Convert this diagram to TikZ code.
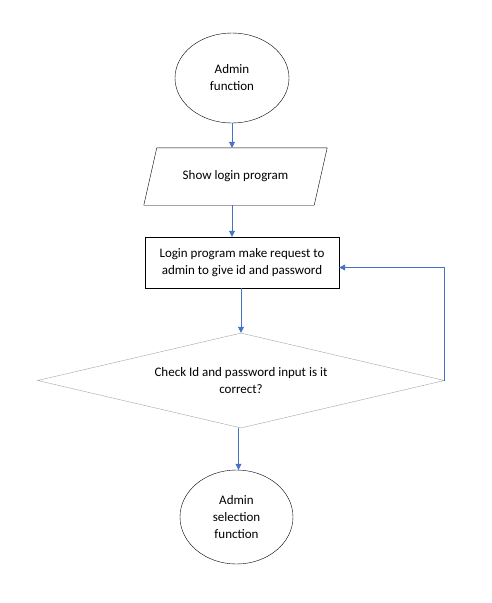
\documentclass[tikz,border=0pt]{standalone}
\usepackage{fontspec}
\setmainfont{Carlito}
\usepackage{xcolor}
\usetikzlibrary{positioning}
\usetikzlibrary{shapes.geometric}
\usetikzlibrary{arrows.meta}
\definecolor{linkblue}{HTML}{4472C4}
\definecolor{rimgray}{HTML}{A5A5A5}
\tikzset{
  arr/.style={draw=linkblue, line width=0.6pt, -{Triangle[length=6pt,width=6pt]}},
  txt/.style={font=\fontsize{13}{17}\selectfont, align=center, inner sep=0pt}
}

\begin{document}
\begin{tikzpicture}[x=1pt,y=-1pt]
\useasboundingbox (0,0) rectangle (491,603);

\node[txt, draw, ellipse, minimum width=114pt, minimum height=90pt] (admin) at (232,78) {Admin\\function};
\node[txt, rectangle, minimum width=170pt, minimum height=57pt] (show) at (235.5,176.5) {Show login program};
\draw ([xshift=-6.5pt]show.south west) -- ([xshift=6.5pt]show.north west)
  -- ([xshift=6.5pt]show.north east) -- ([xshift=-6.5pt]show.south east) -- cycle;
\node[txt, draw, rectangle, minimum width=194pt, minimum height=51pt] (login) at (242,262.5) {Login program make request to\\admin to give id and password};
\node[txt, draw=rimgray, diamond, aspect=4.28, minimum width=407pt, minimum height=95pt] (check) at (241,380.5) {Check Id and password input is it\\correct?};
\node[txt, draw, ellipse, minimum width=113pt, minimum height=94pt] (sel) at (236.5,517) {Admin\\selection\\function};

\draw[arr] (admin.south) -- (show.north -| admin.south);
\draw[arr] (show.south -| admin.south) -- (login.north -| admin.south);
\draw[arr] (check.north |- login.south) -- (check.north);
\draw[arr] ([xshift=-2.5pt]check.south) -- ([xshift=-2.5pt]check.south |- sel.north);
\draw[arr] (check.east) |- ([yshift=-5pt]login.east);

\end{tikzpicture}
\end{document}
